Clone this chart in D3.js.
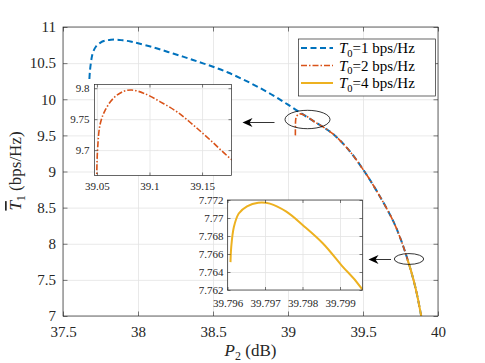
<!DOCTYPE html>
<html><head><meta charset="utf-8">
<script src="https://cdn.jsdelivr.net/npm/d3@7"></script>
<style>body{margin:0;background:#fff}</style></head><body>
<script>
// ---- data ----
const blueX = [37.676,37.68,37.69,37.70,37.72,37.75,37.78,37.82,37.86,37.90,37.95,38.0,38.1,38.2,38.3,38.4,38.5,38.6,38.7,38.8,38.9,39.0,39.1,39.2,39.3,39.4,39.5,39.6,39.7,39.75,39.8,39.85,39.888];
const blueY = [10.28,10.40,10.56,10.65,10.73,10.785,10.81,10.823,10.825,10.815,10.80,10.775,10.72,10.655,10.59,10.52,10.45,10.37,10.275,10.17,10.055,9.925,9.79,9.66,9.52,9.31,9.03,8.70,8.32,8.07,7.762,7.39,7.0];
const orangeX = [39.049,39.0495,39.0506,39.0532,39.058,39.0658,39.0754,39.0833,39.0944,39.1103,39.126,39.142,39.158,39.178,39.2,39.3,39.4,39.5,39.6,39.7,39.75,39.8,39.85,39.888];
const orangeY = [9.50,9.62,9.70,9.743,9.765,9.784,9.795,9.797,9.792,9.778,9.762,9.74,9.716,9.685,9.66,9.52,9.31,9.03,8.70,8.32,8.07,7.762,7.39,7.0];
const yellowX = [39.79608,39.7961,39.79617,39.7963,39.79652,39.79682,39.79713,39.79757,39.79801,39.79854,39.79907,39.79957,39.85,39.888];
const yellowY = [7.7651,7.7668,7.769,7.7705,7.7713,7.7717,7.7716,7.7707,7.7692,7.7672,7.7646,7.7622,7.39,7.0];
const seriesNames = ["1","2","4"];
const mainXTicks = [37.5,38,38.5,39,39.5,40];
const mainYTicks = [7,7.5,8,8.5,9,9.5,10,10.5,11];
const in1XTicks = [39.05,39.1,39.15];
const in1YTicks = [9.7,9.75,9.8];
const in2XTicks = [39.796,39.797,39.798,39.799];
const in2YTicks = [7.762,7.764,7.766,7.768,7.77,7.772];

const C = {blue:"#0072BD", orange:"#D95319", yellow:"#EDB120", axis:"#262626", grid:"#e3e3e3"};
const FONT = '"Liberation Serif"';
const W=485,H=363;
const svg=d3.select("body").append("svg").attr("width",W).attr("height",H).style("font-family",FONT);
const zip=(a,b)=>a.map((v,i)=>[v,b[i]]);

function frame(g, xs, ys, xt, yt, xf, yf, fs, tl, id, padX, padY){
  const [x0,x1]=xs.range(), [y0,y1]=ys.range();
  g.append("rect").attr("x",x0).attr("y",y1).attr("width",x1-x0).attr("height",y0-y1).attr("fill","#fff");
  const gx=g.append("g").attr("transform",`translate(0,${y0})`)
    .call(d3.axisBottom(xs).tickValues(xt).tickSize(-(y0-y1)).tickFormat(""));
  const gy=g.append("g").attr("transform",`translate(${x0},0)`)
    .call(d3.axisLeft(ys).tickValues(yt).tickSize(-(x1-x0)).tickFormat(""));
  [gx,gy].forEach(a=>{a.select(".domain").remove();a.selectAll("line").attr("stroke",C.grid).attr("stroke-width",0.8);});
  g.append("clipPath").attr("id",id).append("rect").attr("x",x0).attr("y",y1).attr("width",x1-x0).attr("height",y0-y1);
  const plot=g.append("g").attr("clip-path",`url(#${id})`);
  const axes=g.append("g");
  const ax=[
    [d3.axisBottom(xs).tickValues(xt).tickSize(-tl).tickPadding(padX).tickFormat(xf), `translate(0,${y0})`],
    [d3.axisTop(xs).tickValues(xt).tickSize(-tl).tickFormat(""), `translate(0,${y1})`],
    [d3.axisLeft(ys).tickValues(yt).tickSize(-tl).tickPadding(padY).tickFormat(yf), `translate(${x0},0)`],
    [d3.axisRight(ys).tickValues(yt).tickSize(-tl).tickFormat(""), `translate(${x1},0)`]
  ];
  ax.forEach(([a,t])=>{
    const s=axes.append("g").attr("transform",t).call(a);
    s.attr("font-family",null);
    s.select(".domain").remove();
    s.selectAll("line").attr("stroke",C.axis).attr("stroke-width",0.6);
    s.selectAll("text").attr("fill",C.axis).style("font-family",FONT).style("font-size",fs+"px");
  });
  g.append("rect").attr("x",x0).attr("y",y1).attr("width",x1-x0).attr("height",y0-y1)
    .attr("fill","none").attr("stroke",C.axis).attr("stroke-width",0.7);
  return {plot, axes};
}

function line(g, xs, ys, X, Y, color, w, dash){
  g.append("path").datum(zip(X,Y))
    .attr("d", d3.line().x(d=>xs(d[0])).y(d=>ys(d[1])).curve(d3.curveCatmullRom.alpha(0.5)))
    .attr("fill","none").attr("stroke",color).attr("stroke-width",w)
    .attr("stroke-dasharray",dash||null);
}
const DASH="6,3.5", DASHDOT="6,2,1.5,2";

// ---- main axes ----
const x=d3.scaleLinear().domain([37.5,40]).range([63,438]);
const y=d3.scaleLinear().domain([7,11]).range([316,27]);
const fmt=d=>d3.format("")(d);
const M=frame(svg.append("g"),x,y,mainXTicks,mainYTicks,fmt,fmt,15,4.5,"clipMain",10,7);
line(M.plot,x,y,blueX,blueY,C.blue,2,DASH);
line(M.plot,x,y,orangeX,orangeY,C.orange,1.6,DASHDOT);
line(M.plot,x,y,yellowX,yellowY,C.yellow,2);

// axis labels
svg.append("text").attr("x",250.5).attr("y",356).attr("text-anchor","middle")
  .style("font-family",FONT).style("font-size","17px").attr("fill",C.axis)
  .call(t=>{t.append("tspan").style("font-style","italic").text("P");
           t.append("tspan").attr("dy",4).style("font-size","12px").text("2");
           t.append("tspan").attr("dy",-4).text(" (dB)");});
svg.append("text").attr("transform","translate(21,171) rotate(-90)").attr("text-anchor","middle")
  .style("font-family",FONT).style("font-size","17px").attr("fill",C.axis)
  .call(t=>{t.append("tspan").style("font-style","italic").style("text-decoration","overline").text("T");
           t.append("tspan").attr("dy",4).style("font-size","12px").text("1");
           t.append("tspan").attr("dy",-4).text(" (bps/Hz)");});

// ---- inset 1 ----
const x1=d3.scaleLinear().domain([39.0477,39.178]).range([94.5,231.5]);
const y1=d3.scaleLinear().domain([9.659,9.806]).range([175.5,84.5]);
const I1=frame(svg.append("g"),x1,y1,in1XTicks,in1YTicks,d3.format(""),d3.format(""),11,3,"clipI1",7,5);
line(I1.plot,x1,y1,orangeX,orangeY,C.orange,1.6,DASHDOT);

// ---- inset 2 ----
const x2=d3.scaleLinear().domain([39.796,39.7996]).range([227.5,362.5]);
const y2=d3.scaleLinear().domain([7.762,7.772]).range([290,200]);
const I2=frame(svg.append("g"),x2,y2,in2XTicks,in2YTicks,d3.format(""),d3.format(""),11,3,"clipI2",9,4);
line(I2.plot,x2,y2,yellowX,yellowY,C.yellow,2);

// ---- legend ----
const lg=svg.append("g");
lg.append("rect").attr("x",298.5).attr("y",39).attr("width",137).attr("height",57)
  .attr("fill","#fff").attr("stroke",C.axis).attr("stroke-width",0.7);
const legSpec=[[C.blue,2,DASH],[C.orange,1.6,DASHDOT],[C.yellow,2,null]];
seriesNames.forEach((n,i)=>{
  const yy=48+i*17.5;
  lg.append("line").attr("x1",301).attr("x2",333).attr("y1",yy).attr("y2",yy)
    .attr("stroke",legSpec[i][0]).attr("stroke-width",legSpec[i][1]).attr("stroke-dasharray",legSpec[i][2]);
  lg.append("text").attr("x",339).attr("y",yy+5).style("font-family",FONT).style("font-size","15px").attr("fill","#000")
    .call(t=>{t.append("tspan").style("font-style","italic").text("T");
             t.append("tspan").attr("dy",3.5).style("font-size","10.5px").text("0");
             t.append("tspan").attr("dy",-3.5).text("="+n+" bps/Hz");});
});

// ---- annotations ----
function ellipse(cx,cy,rx,ry){svg.append("ellipse").attr("cx",cx).attr("cy",cy).attr("rx",rx).attr("ry",ry)
  .attr("fill","none").attr("stroke","#000").attr("stroke-width",0.8);}
function arrow(xt,xh,yy){
  svg.append("line").attr("x1",xt).attr("x2",xh+6).attr("y1",yy).attr("y2",yy).attr("stroke","#000").attr("stroke-width",0.8);
  svg.append("path").attr("d",`M${xh},${yy} L${xh+10},${yy-4.5} L${xh+7},${yy} L${xh+10},${yy+4.5} Z`).attr("fill","#000");
}
ellipse(307.5,119.5,22.5,9.2);
arrow(274.5,242.5,122.5);
ellipse(409,259,14.7,5.4);
arrow(391,368.5,259.5);
</script></body></html>
